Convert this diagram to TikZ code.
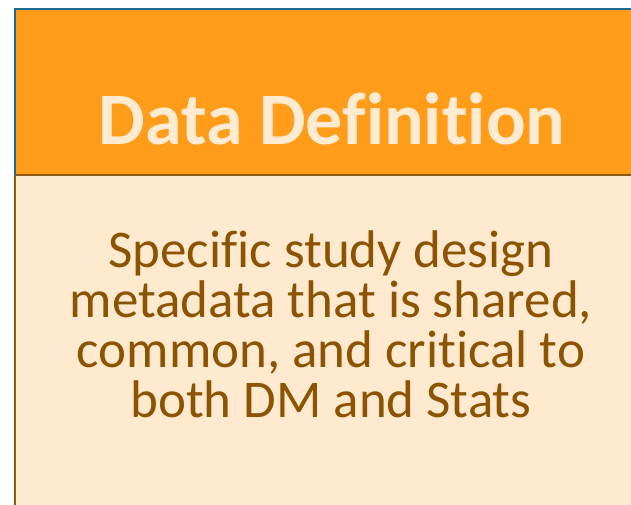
\documentclass[tikz,border=0pt]{standalone}
\usepackage{fontspec}
\setmainfont{Carlito}[Ligatures={NoCommon,NoRequired,NoContextual},Contextuals={NoAlternate},RawFeature={-liga;-clig;-calt}]
\definecolor{hdrfill}{HTML}{FF9D1A}
\definecolor{hdrline}{HTML}{1F6A94}
\definecolor{hdrtext}{HTML}{FFEBD2}
\definecolor{bodyfill}{HTML}{FFEAD0}
\definecolor{bodyline}{HTML}{8C5A14}
\definecolor{bodytext}{HTML}{8C5300}
\newcommand\mybodyfont{\fontsize{53}{50}\selectfont\setlength{\lineskiplimit}{-100pt}\relax}
\tikzset{
  x=1pt, y=1pt,
  hdrbox/.style={fill=hdrfill, draw=hdrline, line width=2pt},
  bodybox/.style={fill=bodyfill, draw=bodyline, line width=2pt},
  titletext/.style={font=\fontsize{74}{74}\selectfont\bfseries, text=hdrtext, inner sep=0pt, anchor=base},
  bodytxt/.style={font=\mybodyfont, text=bodytext, inner sep=0pt, align=center, anchor=center}
}
\begin{document}
\begin{tikzpicture}
\useasboundingbox (0,0) rectangle (631,-504);
\begin{scope}
\clip (0,0) rectangle (631,-504);
\draw[bodybox] (15,-175) rectangle (660,-540);
\draw[hdrbox] (15,-9) rectangle (660,-175);
\draw[bodyline, line width=2pt] (15,-175) -- (660,-175);
\end{scope}
\node[titletext] (title) at (332,-144) {Data Definition};
\node[bodytxt] (body) at (331,-324) {Specific study design\\metadata that is shared,\\common, and critical to\\both DM and Stats};
\end{tikzpicture}
\end{document}
